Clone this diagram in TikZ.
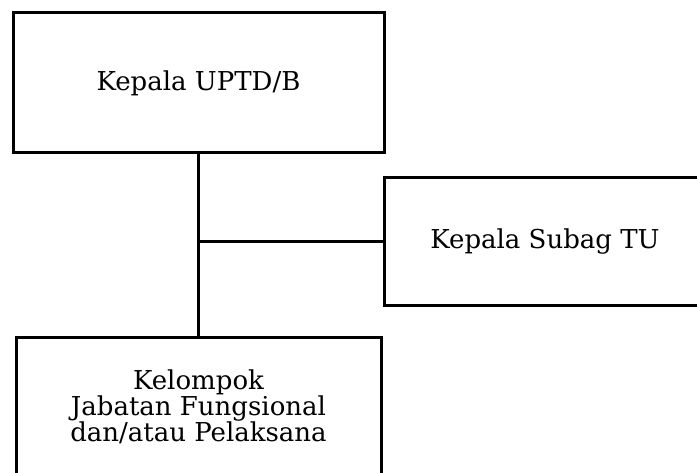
\documentclass[tikz,border=0pt]{standalone}
\usepackage{fontspec}
\setmainfont{DejaVu Serif}
\newcommand\myboxfont{\fontsize{26}{26}\selectfont\lineskiplimit=-20pt\relax}
\begin{document}
\begin{tikzpicture}[x=1pt,y=-1pt,
  box/.style={draw, line width=3pt, rectangle, outer sep=0pt, inner sep=0pt, align=center,
    font=\myboxfont},
  conn/.style={line width=3pt}]
\useasboundingbox (0,0) rectangle (697,473);
\clip (0,0) rectangle (697,473);
\node[box, minimum width=371pt, minimum height=140pt] (kepala) at (198.5,83) {Kepala UPTD/B};
\node[box, minimum width=321pt, minimum height=128pt] (subag) at (545,242) {Kepala Subag TU};
\node[box, minimum width=365pt, minimum height=138pt] (kelompok) at (198.5,407) {Kelompok\\Jabatan Fungsional\\dan/atau Pelaksana};
\coordinate (j) at (kepala.south |- subag.west);
\draw[conn] (kepala.south) -- (kelompok.north);
\draw[conn] (j) -- (subag.west);
\end{tikzpicture}
\end{document}
